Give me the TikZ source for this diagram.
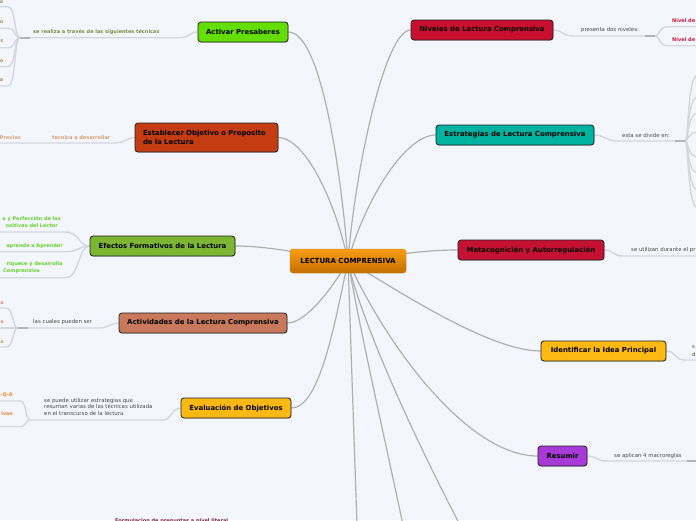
\documentclass[tikz,border=0pt]{standalone}
\usepackage{fontspec}
\setmainfont{DejaVu Sans}
\usetikzlibrary{shadows}
\definecolor{bgc}{RGB}{243,246,253}
\definecolor{mlc}{RGB}{176,176,176}
\definecolor{slc}{RGB}{212,215,223}
\definecolor{hlc}{RGB}{180,180,180}
\definecolor{bdc}{RGB}{30,30,30}
\definecolor{ctop}{RGB}{248,158,18}
\definecolor{cbot}{RGB}{198,110,0}
\definecolor{cbd}{RGB}{214,128,10}
\definecolor{cAP}{RGB}{100,222,0}
\definecolor{cEO}{RGB}{196,60,18}
\definecolor{cEF}{RGB}{124,182,50}
\definecolor{cAC}{RGB}{200,121,92}
\definecolor{cEV}{RGB}{253,185,19}
\definecolor{cNL}{RGB}{200,16,46}
\definecolor{cES}{RGB}{0,178,160}
\definecolor{cMA}{RGB}{198,18,50}
\definecolor{cRS}{RGB}{168,59,216}
\definecolor{tgray}{RGB}{72,72,72}
\definecolor{tolive}{RGB}{125,140,60}
\definecolor{ttan}{RGB}{214,160,110}
\definecolor{ttan2}{RGB}{175,150,95}
\definecolor{tgreen}{RGB}{102,208,40}
\definecolor{tred}{RGB}{206,22,60}
\definecolor{torange}{RGB}{240,135,35}
\definecolor{tmaroon}{RGB}{125,30,60}
\pgfdeclarelayer{back}
\pgfdeclarelayer{wires}
\pgfsetlayers{back,wires,main}
\begin{document}
\begin{tikzpicture}[x=1pt,y=-1pt,
  branchbox/.style={draw=bdc, line width=0.8pt, rounded corners=3pt, inner sep=0pt,
    font=\fontsize{6.9}{8.7}\selectfont\bfseries, text=black,
    drop shadow={opacity=0.3, shadow xshift=0.6pt, shadow yshift=-0.8pt}},
  mline/.style={draw=mlc, line width=1.2pt},
  sline/.style={draw=slc, line width=1.4pt},
  hline/.style={draw=hlc, line width=2pt},
  glab/.style={font=\fontsize{5.4}{6.5}\selectfont, text=tgray, inner sep=0pt},
  clab/.style={font=\fontsize{5}{6.5}\selectfont\bfseries, inner sep=0pt}
]
\begin{pgfonlayer}{back}
\fill[bgc] (0,0) rectangle (696,520);
\end{pgfonlayer}
\useasboundingbox (0,0) rectangle (696,520);

% ---------- nodes ----------
\node[draw=cbd, line width=0.4pt, rounded corners=3pt, top color=ctop, bottom color=cbot,
  minimum width=116pt, minimum height=24pt, inner sep=0pt,
  font=\fontsize{7}{8}\selectfont\bfseries, text=black,
  drop shadow={opacity=0.2, shadow xshift=0.5pt, shadow yshift=-0.7pt}]
  (LC) at (348,261) {LECTURA COMPRENSIVA};

\node[branchbox, fill=cAP, minimum width=90pt, minimum height=20pt] (AP) at (243,32) {Activar Presaberes};
\node[branchbox, fill=cEO, minimum width=143pt, minimum height=29pt, text width=127pt, align=left]
  (EO) at (206.5,137.5) {Establecer Objetivo o Proposito\\de la Lectura};
\node[branchbox, fill=cEF, minimum width=145pt, minimum height=20pt] (EF) at (162.5,246) {Efectos Formativos de la Lectura};
\node[branchbox, fill=cAC, minimum width=168pt, minimum height=20pt] (AC) at (203,323) {Actividades de la Lectura Comprensiva};
\node[branchbox, fill=cEV, minimum width=110pt, minimum height=20pt] (EV) at (236,408) {Evaluación de Objetivos};
\node[branchbox, fill=cNL, minimum width=142pt, minimum height=20pt] (NL) at (482,30) {Niveles de Lectura Comprensiva};
\node[branchbox, fill=cES, minimum width=158pt, minimum height=20pt] (ES) at (515,135) {Estrategias de Lectura Comprensiva};
\node[branchbox, fill=cMA, minimum width=146pt, minimum height=20pt] (MA) at (531,250) {Metacognición y Autorregulación};
\node[branchbox, fill=cEV, minimum width=125pt, minimum height=20pt] (IP) at (603.5,351) {Identificar la Idea Principal};
\node[branchbox, fill=cRS, minimum width=49pt, minimum height=20pt] (RS) at (562.5,456) {Resumir};

% ---------- labels ----------
\node[clab, text=tolive, anchor=west] (lAP) at (33,32) {se realiza a través de las siguientes técnicas};
\node[clab, text=ttan, anchor=west] (lEO) at (52,138) {tecnica a desarrollar};
\node[clab, text=ttan, anchor=east] (cEO1) at (21,138) {Previas};
\node[glab, anchor=west] (lAC) at (33,322) {las cuales pueden ser};
\node[glab, anchor=north west, align=left, font=\fontsize{5.4}{6.5}\selectfont] (lEV) at (44,398)
  {se puede utilizar estrategias que\\resuman varias de las técnicas utilizada\\en el transcurso de la lectura};
\node[glab, anchor=west] (lNL) at (581,30) {presenta dos niveles:};
\node[glab, anchor=west] (lES) at (622,135) {esta se divide en:};
\node[glab, anchor=west] (lMA) at (631,250) {se utilizan durante el pr};
\node[glab, anchor=west] (lIP1) at (692,347.5) {s};
\node[glab, anchor=west] (lIP2) at (692,354.5) {d};
\node[glab, anchor=west] (lRS) at (614,456) {se aplican 4 macroreglas};

% children texts (cut by the frame)
\node[clab, text=ttan2, anchor=east] (cAP1) at (3.5,2) {a};
\node[clab, text=ttan2, anchor=east] (cAP2) at (3.5,22) {o};
\node[clab, text=ttan2, anchor=east] (cAP3) at (3.5,41) {s};
\node[clab, text=ttan2, anchor=east] (cAP4) at (3.5,61) {o};
\node[clab, text=ttan2, anchor=east] (cAP5) at (3.5,80) {a};

\node[clab, text=tgreen, anchor=east] (cEF1a) at (61,219.5) {a y Perfección de las};
\node[clab, text=tgreen, anchor=east] (cEF1b) at (58,225.8) {ositivas del Lector};
\node[clab, text=tgreen, anchor=east] (cEF2) at (63,245.7) {aprende a Aprender};
\node[clab, text=tgreen, anchor=east] (cEF3a) at (63,264.5) {riquece y desarrolla};
\node[clab, text=tgreen, anchor=west] (cEF3b) at (3,271.5) {Comprensiva};

\node[clab, text=ttan, anchor=east] (cAC1) at (4,303) {a};
\node[clab, text=ttan, anchor=east] (cAC2) at (4,322) {a};
\node[clab, text=ttan, anchor=east] (cAC3) at (4,342) {a};

\node[clab, text=torange, anchor=east] (cEV1) at (13,395) {-Q-A};
\node[clab, text=torange, anchor=east] (cEV2) at (13,414) {ivos};

\node[clab, text=tred, anchor=west] (cNL1) at (672,21) {Nivel de};
\node[clab, text=tred, anchor=west] (cNL2) at (672,40) {Nivel de};

\node[clab, text=tmaroon, anchor=base west] (fq) at (115,522.5) {Formulacion de preguntas a nivel literal};

% ---------- coordinates ----------
\coordinate (b1) at (357,525);
\coordinate (b2) at (403,525);
\coordinate (b3) at (460,525);

\begin{pgfonlayer}{wires}
% main connectors
\draw[mline] (AP.east) .. controls (322,32) and (342,180) .. (LC.center);
\draw[mline] (EO.east) .. controls (305,138) and (335,200) .. (LC.center);
\draw[mline] (EF.east) .. controls (270,246) and (310,255) .. (LC.center);
\draw[mline] (AC.east) .. controls (305,323) and (330,292) .. (LC.center);
\draw[mline] (EV.east) .. controls (320,408) and (335,322) .. (LC.center);
\draw[mline] (NL.west) .. controls (385,30) and (355,170) .. (LC.center);
\draw[mline] (ES.west) .. controls (405,135) and (365,200) .. (LC.center);
\draw[mline] (MA.west) .. controls (420,250) and (390,256) .. (LC.center);
\draw[mline] (IP.west) .. controls (490,351) and (400,292) .. (LC.center);
\draw[mline] (RS.west) .. controls (470,456) and (390,352) .. (LC.center);
\draw[mline] (LC.center) -- (b1);
\draw[mline] (LC.center) .. controls (360,330) and (385,440) .. (b2);
\draw[mline] (LC.center) .. controls (355,300) and (395,400) .. (b3);

% Activar Presaberes
\coordinate (hAP) at (30,37.7);
\coordinate (hAPb) at (20,37.7);
\draw[sline] (AP.west) .. controls (190,32) and (189,37.7) .. (180,37.7) -- (hAP);
\foreach \cy in {6.7,28.3,47.7,66.7,86} {
  \draw[sline] (hAPb) .. controls (14,37.7) and (16,\cy) .. (8,\cy) -- (-3,\cy);
}
\draw[hline] (hAP) -- (hAPb);

% Establecer
\coordinate (hEO) at (-3,143);
\draw[sline] (EO.west) .. controls (127,137.5) and (125,143) .. (115,143) -- (hEO);

% Efectos
\foreach \cy in {232,251.7,277.7} {
  \draw[sline] (EF.west) .. controls (78,246) and (80,\cy) .. (65,\cy) -- (-3,\cy);
}

% Actividades
\coordinate (hAC) at (28,328);
\coordinate (hACb) at (18,328);
\draw[sline] (AC.west) .. controls (110,323) and (108,328) .. (100,328) -- (hAC);
\foreach \cy in {308,328,347} {
  \draw[sline] (hACb) .. controls (12,328) and (14,\cy) .. (6,\cy) -- (-3,\cy);
}
\draw[hline] (hAC) -- (hACb);

% Evaluacion
\coordinate (hEV) at (30,420);
\draw[sline] (EV.west) .. controls (172,408) and (171,420) .. (163,420) -- (hEV);
\draw[sline] (hEV) .. controls (25,420) and (27,401) .. (20,401) -- (-3,401);
\draw[sline] (hEV) .. controls (25,420) and (27,426.5) .. (20,426.5) -- (-3,426.5);

% Niveles
\coordinate (hNL) at (645,36);
\coordinate (hNLb) at (655,36);
\draw[sline] (NL.east) .. controls (563,30) and (562,36) .. (573,36) -- (hNL);
\draw[sline] (hNLb) .. controls (660,36) and (658,26.7) .. (668,26.7) -- (700,26.7);
\draw[sline] (hNLb) .. controls (660,36) and (658,45.7) .. (668,45.7) -- (700,45.7);
\draw[hline] (hNL) -- (hNLb);

% Estrategias
\coordinate (hES) at (675,141);
\coordinate (hESb) at (685,141);
\draw[sline] (ES.east) .. controls (605,135) and (606,141) .. (617,141) -- (hES);
\foreach \cy in {75,97,113,132,157,173,190,208} {
  \draw[sline] (hESb) .. controls (689,141) and (687,\cy) .. (698,\cy);
}
\draw[hline] (hES) -- (hESb);

% Metacognicion
\coordinate (eMA) at (700,256);
\draw[sline] (MA.east) .. controls (614,250) and (612,256) .. (623,256) -- (eMA);

% Identificar
\coordinate (eIP) at (700,360);
\draw[sline] (IP.east) .. controls (676,351) and (674,360) .. (685,360) -- (eIP);

% Resumir
\coordinate (hRS) at (687,461);
\coordinate (eRS) at (700,461);
\draw[sline] (RS.east) .. controls (597,456) and (596,461) .. (607,461) -- (hRS);
\draw[hline] (hRS) -- (eRS);
\end{pgfonlayer}
\end{tikzpicture}
\end{document}
